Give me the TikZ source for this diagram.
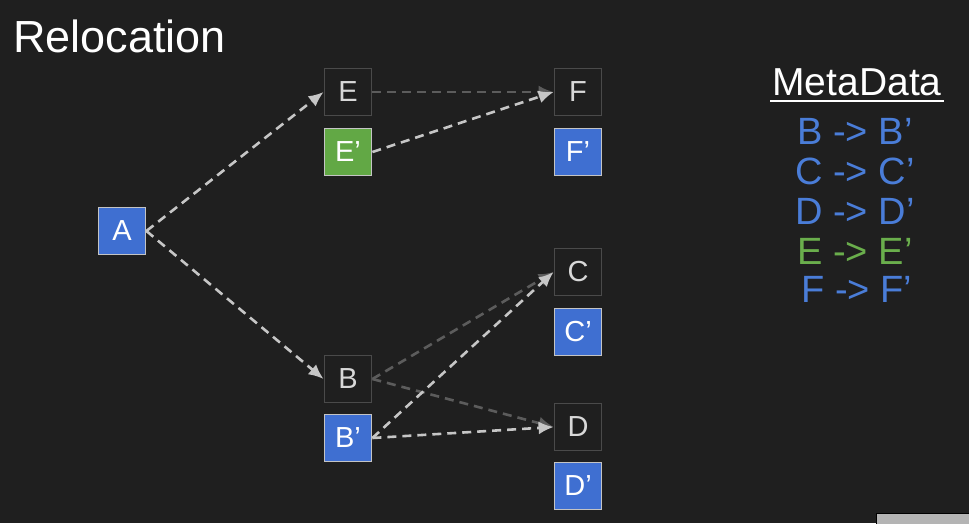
\documentclass[tikz,border=0pt]{standalone}
\usepackage{fontspec}
\setmainfont{Liberation Sans}
\usetikzlibrary{arrows.meta}
\definecolor{bg}{HTML}{1F1F1F}
\definecolor{boxedge}{HTML}{4A4A4A}
\definecolor{lightedge}{HTML}{C4C4C4}
\definecolor{bluefill}{HTML}{3F6FD1}
\definecolor{greenfill}{HTML}{62A845}
\definecolor{bluetext}{HTML}{4A7DD8}
\definecolor{greentext}{HTML}{6AAE4C}
\definecolor{boxtext}{HTML}{D8D8D8}
\definecolor{linelight}{HTML}{C6C6C6}
\definecolor{linedark}{HTML}{5C5C5C}
\definecolor{badge}{HTML}{B4B4B4}
\tikzset{
  basebox/.style={minimum size=47pt, inner sep=0pt, line width=1.8pt, font=\fontsize{29}{29}\selectfont},
  darkbox/.style={basebox, draw=boxedge, fill=bg, text=boxtext},
  bluebox/.style={basebox, draw=lightedge, fill=bluefill, text=white},
  greenbox/.style={basebox, draw=lightedge, fill=greenfill, text=white},
  lightlink/.style={draw=linelight, line width=2.6pt, dash pattern=on 9pt off 6pt, -{Latex[length=15pt,width=13pt,fill=linelight]}},
  darklink/.style={draw=linedark, line width=2.6pt, dash pattern=on 9pt off 6pt, -{Latex[length=15pt,width=13pt,fill=linedark]}},
  metaline/.style={font=\fontsize{38}{38}\selectfont, inner sep=0pt, anchor=center}
}
\begin{document}
\begin{tikzpicture}[x=1pt,y=-1pt]
\fill[bg] (0,0) rectangle (969,523);
\useasboundingbox (0,0) rectangle (969,523);

\node[anchor=base west, inner sep=0pt, text=white, font=\fontsize{45}{45}\selectfont] (title) at (13,52) {Relocation};

\node[bluebox] (A) at (122,231) {A};
\node[darkbox] (E) at (348,92) {E};
\node[greenbox] (E2) at (348,152) {E’};
\node[darkbox] (F) at (578,92) {F};
\node[bluebox] (F2) at (578,152) {F’};
\node[darkbox] (C) at (578,272) {C};
\node[bluebox] (C2) at (578,332) {C’};
\node[darkbox] (B) at (348,379) {B};
\node[bluebox] (B2) at (348,438) {B’};
\node[darkbox] (D) at (578,427) {D};
\node[bluebox] (D2) at (578,486) {D’};

\draw[darklink] (E.east) -- (F.west);
\draw[darklink] (B.east) -- (C.west);
\draw[darklink] (B.east) -- (D.west);
\draw[lightlink] (A.east) -- (E.west);
\draw[lightlink] (A.east) -- (B.west);
\draw[lightlink] (E2.east) -- (F.west);
\draw[lightlink] (B2.east) -- (C.west);
\draw[lightlink] (B2.east) -- (D.west);

\node[anchor=base, inner sep=0pt, text=white, font=\fontsize{39}{39}\selectfont] (meta) at (857,95) {MetaData};
\draw[white, line width=2.2pt] ([yshift=-6pt,xshift=-2pt]meta.base west) -- ([yshift=-6pt,xshift=2pt]meta.base east);

\node[metaline, text=bluetext] (m1) at (855,131) {B -> B’};
\node[metaline, text=bluetext] (m2) at (855,171) {C -> C’};
\node[metaline, text=bluetext] (m3) at (855,211) {D -> D’};
\node[metaline, text=greentext] (m4) at (855,251) {E -> E’};
\node[metaline, text=bluetext] (m5) at (857,289) {F -> F’};

\fill[badge, draw=black, line width=1pt] (876,513) rectangle (975,530);
\end{tikzpicture}
\end{document}
